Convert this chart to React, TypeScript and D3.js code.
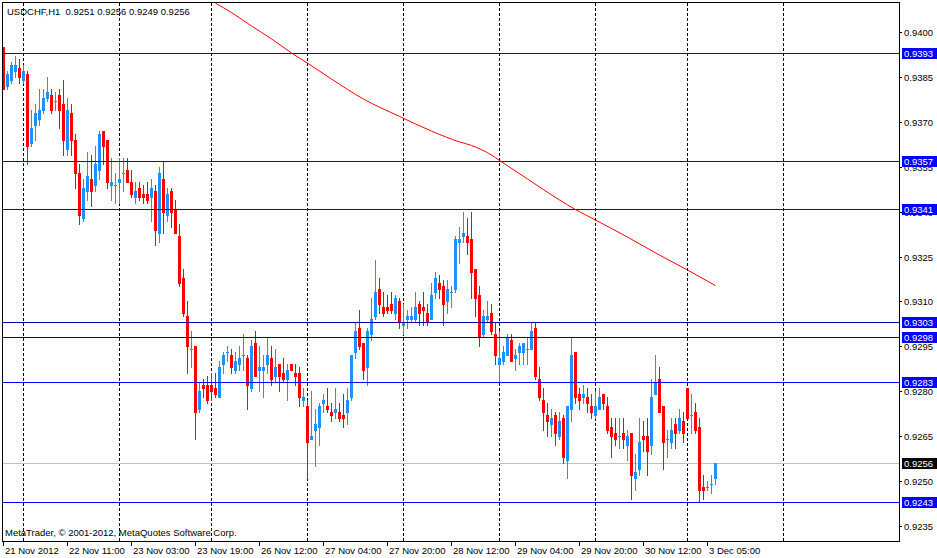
import React from 'react';
import * as d3 from 'd3';

// ---- data ----
const opens = [
  0.9395,0.9382,0.9384,0.9387,0.9388,0.9384,0.9386,0.9363,0.9369,0.9371,
  0.9374,0.9378,0.9379,0.9377,0.9379,0.9376,0.9361,0.9373,0.9364,0.9353,
  0.9338,0.9347,0.9351,0.9349,0.9354,0.9367,0.9364,0.9349,0.9349,0.9350,
  0.9353,0.9354,0.9350,0.9345,0.9348,0.9346,0.9346,0.9345,0.9347,0.9333,
  0.9351,0.9339,0.9347,0.9341,0.9332,0.9318,0.9305,0.9294,0.9295,0.9274,
  0.9282,0.9282,0.9282,0.9281,0.9278,0.9289,0.9293,0.9292,0.9287,0.9289,
  0.9292,0.9291,0.9281,0.9296,0.9287,0.9287,0.9289,0.9291,0.9285,0.9289,
  0.9286,0.9284,0.9289,0.9286,0.9286,0.9277,0.9275,0.9264,0.9267,0.9268,
  0.9276,0.9275,0.9273,0.9273,0.9273,0.9272,0.9273,0.9278,0.9293,0.9301,
  0.9296,0.9288,0.9299,0.9305,0.9314,0.9308,0.9308,0.9309,0.9306,0.9310,
  0.9302,0.9304,0.9304,0.9304,0.9309,0.9308,0.9306,0.9304,0.9313,0.9316,
  0.9315,0.9310,0.9313,0.9314,0.9330,0.9332,0.9332,0.9331,0.9321,0.9312,
  0.9299,0.9304,0.9306,0.9299,0.9289,0.9290,0.9292,0.9297,0.9291,0.9293,
  0.9293,0.9294,0.9294,0.9301,0.9284,0.9277,0.9272,0.9269,0.9272,0.9265,
  0.9271,0.9257,0.9274,0.9293,0.9279,0.9278,0.9278,0.9275,0.9272,0.9274,
  0.9279,0.9275,0.9268,0.9266,0.9265,0.9266,0.9262,0.9266,0.9251,0.9254,
  0.9265,0.9265,0.9262,0.9279,0.9284,0.9275,0.9264,0.9263,0.9269,0.9267,
  0.9270,0.9281,0.9272,0.9273,0.9268,0.9248,0.9248,0.9249,0.9251,
];
const highs = [
  0.9395,0.9387,0.9390,0.9392,0.9391,0.9389,0.9387,0.9374,0.9376,0.9381,
  0.9381,0.9385,0.9381,0.9380,0.9381,0.9384,0.9378,0.9376,0.9366,0.9356,
  0.9351,0.9360,0.9359,0.9362,0.9367,0.9367,0.9364,0.9358,0.9353,0.9358,
  0.9358,0.9358,0.9354,0.9350,0.9350,0.9349,0.9350,0.9351,0.9349,0.9355,
  0.9357,0.9348,0.9348,0.9344,0.9336,0.9321,0.9310,0.9300,0.9295,0.9283,
  0.9284,0.9285,0.9286,0.9286,0.9290,0.9293,0.9295,0.9294,0.9293,0.9295,
  0.9299,0.9292,0.9297,0.9300,0.9295,0.9292,0.9298,0.9295,0.9294,0.9289,
  0.9291,0.9289,0.9289,0.9289,0.9288,0.9281,0.9277,0.9280,0.9274,0.9276,
  0.9279,0.9281,0.9276,0.9281,0.9276,0.9279,0.9281,0.9292,0.9303,0.9307,
  0.9296,0.9301,0.9311,0.9324,0.9318,0.9313,0.9312,0.9313,0.9312,0.9311,
  0.9309,0.9307,0.9308,0.9313,0.9310,0.9313,0.9309,0.9316,0.9320,0.9319,
  0.9317,0.9317,0.9315,0.9332,0.9335,0.9340,0.9338,0.9340,0.9321,0.9315,
  0.9307,0.9310,0.9309,0.9303,0.9300,0.9295,0.9299,0.9299,0.9294,0.9296,
  0.9296,0.9298,0.9303,0.9303,0.9288,0.9281,0.9276,0.9274,0.9273,0.9273,
  0.9272,0.9275,0.9298,0.9293,0.9281,0.9282,0.9281,0.9279,0.9280,0.9281,
  0.9279,0.9278,0.9271,0.9271,0.9271,0.9271,0.9267,0.9266,0.9259,0.9271,
  0.9270,0.9271,0.9284,0.9292,0.9288,0.9275,0.9267,0.9271,0.9271,0.9274,
  0.9273,0.9281,0.9279,0.9276,0.9271,0.9252,0.9250,0.9252,0.9256,
];
const lows = [
  0.9381,0.9381,0.9383,0.9385,0.9383,0.9383,0.9356,0.9362,0.9364,0.9369,
  0.9373,0.9377,0.9373,0.9374,0.9368,0.9359,0.9359,0.9359,0.9348,0.9336,
  0.9337,0.9344,0.9342,0.9347,0.9351,0.9356,0.9348,0.9344,0.9343,0.9343,
  0.9347,0.9350,0.9345,0.9343,0.9344,0.9343,0.9343,0.9337,0.9329,0.9330,
  0.9333,0.9337,0.9335,0.9333,0.9315,0.9305,0.9286,0.9288,0.9264,0.9273,
  0.9278,0.9276,0.9277,0.9278,0.9278,0.9286,0.9290,0.9286,0.9286,0.9287,
  0.9287,0.9274,0.9280,0.9285,0.9280,0.9278,0.9286,0.9282,0.9283,0.9280,
  0.9283,0.9277,0.9287,0.9282,0.9275,0.9275,0.9251,0.9264,0.9255,0.9262,
  0.9273,0.9273,0.9270,0.9271,0.9270,0.9268,0.9269,0.9277,0.9291,0.9294,
  0.9284,0.9282,0.9297,0.9304,0.9306,0.9305,0.9306,0.9306,0.9304,0.9301,
  0.9299,0.9301,0.9303,0.9303,0.9302,0.9302,0.9302,0.9304,0.9311,0.9311,
  0.9302,0.9306,0.9308,0.9313,0.9323,0.9330,0.9326,0.9311,0.9305,0.9295,
  0.9298,0.9303,0.9299,0.9289,0.9283,0.9289,0.9292,0.9290,0.9287,0.9289,
  0.9289,0.9289,0.9294,0.9284,0.9277,0.9267,0.9265,0.9265,0.9262,0.9264,
  0.9256,0.9251,0.9270,0.9276,0.9274,0.9276,0.9273,0.9271,0.9271,0.9274,
  0.9274,0.9266,0.9258,0.9262,0.9261,0.9261,0.9257,0.9244,0.9247,0.9252,
  0.9260,0.9252,0.9259,0.9279,0.9273,0.9254,0.9258,0.9261,0.9261,0.9266,
  0.9263,0.9271,0.9266,0.9266,0.9243,0.9244,0.9247,0.9246,0.9249,
];
const closes = [
  0.9381,0.9386,0.9389,0.9389,0.9385,0.9387,0.9362,0.9368,0.9373,0.9374,
  0.9378,0.9380,0.9374,0.9377,0.9374,0.9364,0.9374,0.9364,0.9353,0.9339,
  0.9348,0.9352,0.9347,0.9356,0.9366,0.9362,0.9350,0.9350,0.9349,0.9351,
  0.9353,0.9350,0.9346,0.9347,0.9345,0.9345,0.9344,0.9348,0.9334,0.9353,
  0.9340,0.9346,0.9340,0.9333,0.9316,0.9306,0.9295,0.9294,0.9273,0.9280,
  0.9281,0.9277,0.9280,0.9279,0.9288,0.9292,0.9293,0.9288,0.9290,0.9291,
  0.9292,0.9282,0.9295,0.9285,0.9288,0.9288,0.9292,0.9284,0.9288,0.9285,
  0.9284,0.9287,0.9287,0.9285,0.9278,0.9278,0.9263,0.9265,0.9269,0.9275,
  0.9277,0.9274,0.9272,0.9274,0.9271,0.9271,0.9277,0.9292,0.9300,0.9295,
  0.9287,0.9300,0.9304,0.9313,0.9309,0.9306,0.9307,0.9307,0.9311,0.9303,
  0.9303,0.9305,0.9305,0.9308,0.9306,0.9307,0.9303,0.9312,0.9318,0.9314,
  0.9309,0.9314,0.9313,0.9331,0.9331,0.9333,0.9330,0.9320,0.9311,0.9298,
  0.9305,0.9305,0.9300,0.9292,0.9291,0.9293,0.9298,0.9290,0.9292,0.9295,
  0.9296,0.9294,0.9300,0.9285,0.9278,0.9273,0.9270,0.9271,0.9266,0.9270,
  0.9258,0.9275,0.9292,0.9278,0.9277,0.9279,0.9276,0.9273,0.9275,0.9278,
  0.9276,0.9267,0.9265,0.9264,0.9265,0.9264,0.9265,0.9252,0.9253,0.9263,
  0.9264,0.9260,0.9278,0.9283,0.9273,0.9263,0.9264,0.9267,0.9266,0.9271,
  0.9266,0.9271,0.9272,0.9267,0.9247,0.9247,0.9248,0.9249,0.9256,
];

// moving average (red line), sampled at bar indices
const maBars = [53, 57, 62, 67, 72, 76, 82, 90, 99, 107, 114, 117, 122, 124, 131, 139, 143, 148, 156, 164, 171, 178];
const maValues = [
  0.94096, 0.94065, 0.94020, 0.93977, 0.93930, 0.93896, 0.93843, 0.93776, 0.93718, 0.93669, 0.93633,
  0.93621, 0.93589, 0.93571, 0.93509, 0.93439, 0.93407, 0.93372, 0.93315, 0.93255, 0.93205, 0.93153,
];

const priceTicks = [0.94, 0.9385, 0.937, 0.9355, 0.934, 0.9325, 0.931, 0.9295, 0.928, 0.9265, 0.925, 0.9235];
const timeLabelBars = [0, 16, 32, 48, 64, 80, 96, 112, 128, 144, 160, 176];
const timeLabels = [
  '21 Nov 2012', '22 Nov 11:00', '23 Nov 03:00', '23 Nov 19:00', '26 Nov 12:00', '27 Nov 04:00',
  '27 Nov 20:00', '28 Nov 12:00', '29 Nov 04:00', '29 Nov 20:00', '30 Nov 12:00', '3 Dec 05:00',
];
const dayGridBars = [5, 29, 52, 76, 100, 124, 148, 171, 195];
const levelPrices = [0.9393, 0.9357, 0.9341, 0.9303, 0.9298, 0.9283, 0.9243];
const levelColors = ['#0000FF', '#0000FF', '#0000FF', '#0000A8', '#0000A8', '#0000FF', '#0000FF'];
const bidPrice = 0.9256;
const headerText = 'USDCHF,H1  0.9251 0.9256 0.9249 0.9256';
const copyrightText = 'MetaTrader, \u00A9 2001-2012, MetaQuotes Software Corp.';

const W = 937;
const H = 558;
const FONT = '"Liberation Sans", Arial, sans-serif';
const FS = 9.5;

export default function App() {
  const left = 2, top = 2, right = 899, bottom = 541;
  const x = d3.scaleLinear().domain([0, 1]).range([3.5, 7.5]);
  const y = d3.scaleLinear().domain([0.9235, 0.94]).range([526, 32]);
  const fmt = d3.format('.4f');

  const ma = d3
    .line<number>()
    .x((_, i) => x(maBars[i]))
    .y((v) => y(v))
    .curve(d3.curveMonotoneX)(maValues) || '';

  const candles = opens.map((o, i) => {
    const c = closes[i];
    const bull = c >= o;
    const col = bull ? '#1E90FF' : '#FF0000';
    const cx = Math.floor(x(i));
    const yo = Math.round(y(o));
    const yc = Math.round(y(c));
    const yh = Math.round(y(highs[i]));
    const yl = Math.round(y(lows[i]));
    const bt = Math.min(yo, yc);
    const bh = Math.max(1, Math.abs(yo - yc) + 1);
    return (
      <g key={i}>
        <rect x={cx} y={yh} width={1} height={yl - yh + 1} fill={col} />
        <rect x={cx - 1} y={bt} width={3} height={bh} fill={col} />
      </g>
    );
  });

  return (
    <svg
      width={W}
      height={H}
      viewBox={`0 0 ${W} ${H}`}
      style={{ position: 'absolute', left: 0, top: 0, display: 'block', background: '#fff' }}
      shapeRendering="crispEdges"
    >
      <rect x={0} y={0} width={W} height={H} fill="#fff" />
      <defs>
        <clipPath id="plot">
          <rect x={left + 1} y={top + 1} width={right - left - 1} height={bottom - top - 1} />
        </clipPath>
      </defs>
      <g clipPath="url(#plot)">
        {dayGridBars.map((b) => (
          <line
            key={b}
            x1={Math.floor(x(b)) + 0.5}
            x2={Math.floor(x(b)) + 0.5}
            y1={top + 1}
            y2={bottom}
            stroke="#000"
            strokeWidth={1}
            strokeDasharray="3,2"
          />
        ))}
        <line x1={left} x2={right} y1={Math.round(y(bidPrice)) + 0.5} y2={Math.round(y(bidPrice)) + 0.5} stroke="#C0C0C0" />
        {candles}
        {levelPrices.map((p, i) => (
          <line
            key={p}
            x1={left}
            x2={right}
            y1={Math.round(y(p)) + 0.5}
            y2={Math.round(y(p)) + 0.5}
            stroke={levelColors[i]}
            strokeWidth={1}
          />
        ))}
        <path d={ma} fill="none" stroke="#FF0000" strokeWidth={1} shapeRendering="auto" />
      </g>

      {/* frame */}
      <line x1={left + 0.5} x2={left + 0.5} y1={top} y2={bottom + 1} stroke="#000" />
      <line x1={left} x2={right + 1} y1={top + 0.5} y2={top + 0.5} stroke="#000" />
      <line x1={right + 0.5} x2={right + 0.5} y1={top} y2={bottom + 1} stroke="#000" />
      <line x1={left} x2={right + 1} y1={bottom + 0.5} y2={bottom + 0.5} stroke="#000" />

      <text x={7} y={14.5} fontFamily={FONT} fontSize={FS} fill="#000" style={{ whiteSpace: 'pre' }}>
        {headerText}
      </text>
      <text x={5} y={535.5} fontFamily={FONT} fontSize={FS} fill="#000">
        {copyrightText}
      </text>

      {/* price axis */}
      {priceTicks.map((p) => {
        const ty = Math.round(y(p));
        return (
          <g key={p}>
            <line x1={right} x2={right + 3} y1={ty + 0.5} y2={ty + 0.5} stroke="#000" />
            <text x={904} y={ty + 3.5} fontFamily={FONT} fontSize={FS} fill="#000">
              {fmt(p)}
            </text>
          </g>
        );
      })}
      {levelPrices.map((p, i) => {
        const ty = Math.round(y(p));
        return (
          <g key={'lb' + p}>
            <rect x={902} y={ty - 5} width={35} height={11} fill={'#0000FF'} />
            <text x={904} y={ty + 3.5} fontFamily={FONT} fontSize={FS} fill="#fff">
              {fmt(p)}
            </text>
          </g>
        );
      })}
      <rect x={902} y={Math.round(y(bidPrice)) - 5} width={35} height={11} fill="#000" />
      <text x={904} y={Math.round(y(bidPrice)) + 3.5} fontFamily={FONT} fontSize={FS} fill="#fff">
        {fmt(bidPrice)}
      </text>

      {/* time axis */}
      {timeLabelBars.map((b, i) => {
        const tx = Math.floor(x(b));
        return (
          <g key={b}>
            <line x1={tx + 0.5} x2={tx + 0.5} y1={bottom} y2={bottom + 5} stroke="#000" />
            <text x={tx + 2} y={554} fontFamily={FONT} fontSize={FS} fill="#000">
              {timeLabels[i]}
            </text>
          </g>
        );
      })}
    </svg>
  );
}
